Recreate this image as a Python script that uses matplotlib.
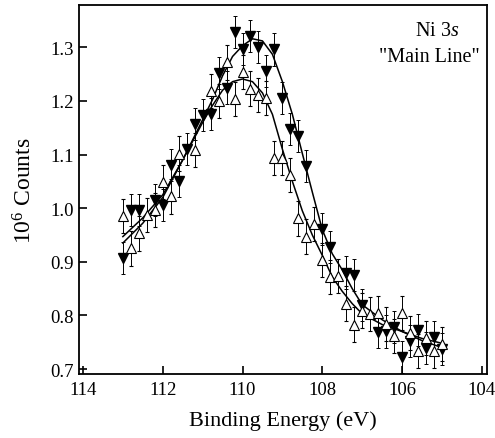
import matplotlib
matplotlib.use("Agg")
import matplotlib.pyplot as plt

# ---- data ----
filled_x = [113.0, 112.8, 112.6, 112.2, 112.0, 111.8, 111.6, 111.4, 111.2, 111.0,
            110.8, 110.6, 110.4, 110.2, 110.0, 109.8, 109.6, 109.4, 109.2, 109.0,
            108.8, 108.6, 108.4, 108.0, 107.8, 107.4, 107.2, 107.0, 106.6, 106.4,
            106.2, 106.0, 105.8, 105.6, 105.4, 105.2, 105.0]
filled_y = [0.907, 0.997, 0.997, 1.016, 1.006, 1.081, 1.050, 1.111, 1.157, 1.174,
            1.175, 1.252, 1.225, 1.328, 1.297, 1.321, 1.301, 1.256, 1.296, 1.206,
            1.147, 1.134, 1.078, 0.961, 0.928, 0.880, 0.876, 0.820, 0.769, 0.770,
            0.779, 0.722, 0.752, 0.773, 0.739, 0.759, 0.737]
filled_err = 0.030

open_x = [113.0, 112.8, 112.6, 112.4, 112.2, 112.0, 111.8, 111.6, 111.2, 110.8,
          110.6, 110.4, 110.2, 110.0, 109.8, 109.6, 109.4, 109.2, 109.0, 108.8,
          108.6, 108.4, 108.2, 108.0, 107.8, 107.6, 107.4, 107.2, 107.0, 106.8,
          106.6, 106.4, 106.2, 106.0, 105.8, 105.6, 105.4, 105.2, 105.0]
open_y = [0.986, 0.925, 0.953, 0.987, 0.997, 1.049, 1.022, 1.102, 1.109, 1.219,
          1.200, 1.272, 1.204, 1.254, 1.223, 1.211, 1.206, 1.094, 1.094, 1.062,
          0.981, 0.947, 0.971, 0.903, 0.872, 0.873, 0.822, 0.783, 0.809, 0.803,
          0.804, 0.784, 0.762, 0.804, 0.767, 0.733, 0.758, 0.733, 0.747]
open_err = 0.032

# fitted curves
curve_x = [113.0, 112.5, 112.0, 111.5, 111.0, 110.75, 110.5, 110.25, 110.0, 109.75,
           109.5, 109.25, 109.0, 108.75, 108.5, 108.25, 108.0, 107.75, 107.5, 107.25,
           107.0, 106.5, 106.0, 105.5, 105.0]
fit_filled = [0.935, 0.972, 1.020, 1.090, 1.165, 1.203, 1.247, 1.283, 1.303, 1.316,
              1.312, 1.287, 1.236, 1.175, 1.102, 1.030, 0.960, 0.915, 0.885, 0.850,
              0.820, 0.792, 0.770, 0.753, 0.740]
fit_open = [0.947, 0.982, 1.025, 1.090, 1.160, 1.192, 1.220, 1.236, 1.241, 1.236,
            1.215, 1.175, 1.110, 1.050, 0.995, 0.950, 0.912, 0.872, 0.845, 0.822,
            0.803, 0.783, 0.770, 0.757, 0.748]

x_ticks = [114, 112, 110, 108, 106, 104]
y_ticks = [0.7, 0.8, 0.9, 1.0, 1.1, 1.2, 1.3]
y_ticklabels = ["0.7", "0.8", "0.9", "1.0", "1.1", "1.2", "1.3"]

plt.rcParams['font.family'] = ['Liberation Serif', 'DejaVu Serif']
plt.rcParams['mathtext.fontset'] = 'custom'
plt.rcParams['mathtext.rm'] = 'Liberation Serif'
plt.rcParams['mathtext.it'] = 'Liberation Serif:italic'

fig = plt.figure(figsize=(4.95, 4.39), dpi=100)
ax = fig.add_axes([79/495, 1-375/439, (487-79)/495, (375-6)/439])

ax.plot(curve_x, fit_filled, color='black', lw=1.1, zorder=2)
ax.plot(curve_x, fit_open, color='black', lw=1.1, zorder=2)

ax.errorbar(filled_x, filled_y, yerr=filled_err, fmt='v', color='black',
            mfc='black', mec='black', ms=6.5, elinewidth=0.7, capsize=1.5,
            capthick=0.7, zorder=3)
ax.errorbar(open_x, open_y, yerr=open_err, fmt='^', color='black',
            mfc='white', mec='black', mew=0.8, ms=6.5, elinewidth=0.7, capsize=1.5,
            capthick=0.7, zorder=3)

ax.set_xlim(114.1, 103.87)
ax.set_ylim(0.6907, 1.379)
ax.set_xticks(x_ticks)
ax.set_xticklabels([str(t) for t in x_ticks])
ax.set_yticks(y_ticks)
ax.set_yticklabels(y_ticklabels)
ax.tick_params(direction='in', length=6, width=1.2, labelsize=13.5,
               top=False, right=False)
ax.tick_params(axis='x', pad=5)
ax.tick_params(axis='y', pad=4)
for s in ax.spines.values():
    s.set_linewidth(1.3)

ax.set_xlabel('Binding Energy (eV)', fontsize=16, labelpad=9)
ax.set_ylabel('10$^6$ Counts', fontsize=17, labelpad=10)

ax.text(105.13, 1.3 - (31 - 48.3) / 536, 'Ni 3$s$', fontsize=14.5, ha='center', va='center')
ax.text(105.31, 1.3 - (57 - 48.3) / 536, '"Main Line"', fontsize=14.5, ha='center', va='center')

fig.savefig('out.png', dpi=100)
